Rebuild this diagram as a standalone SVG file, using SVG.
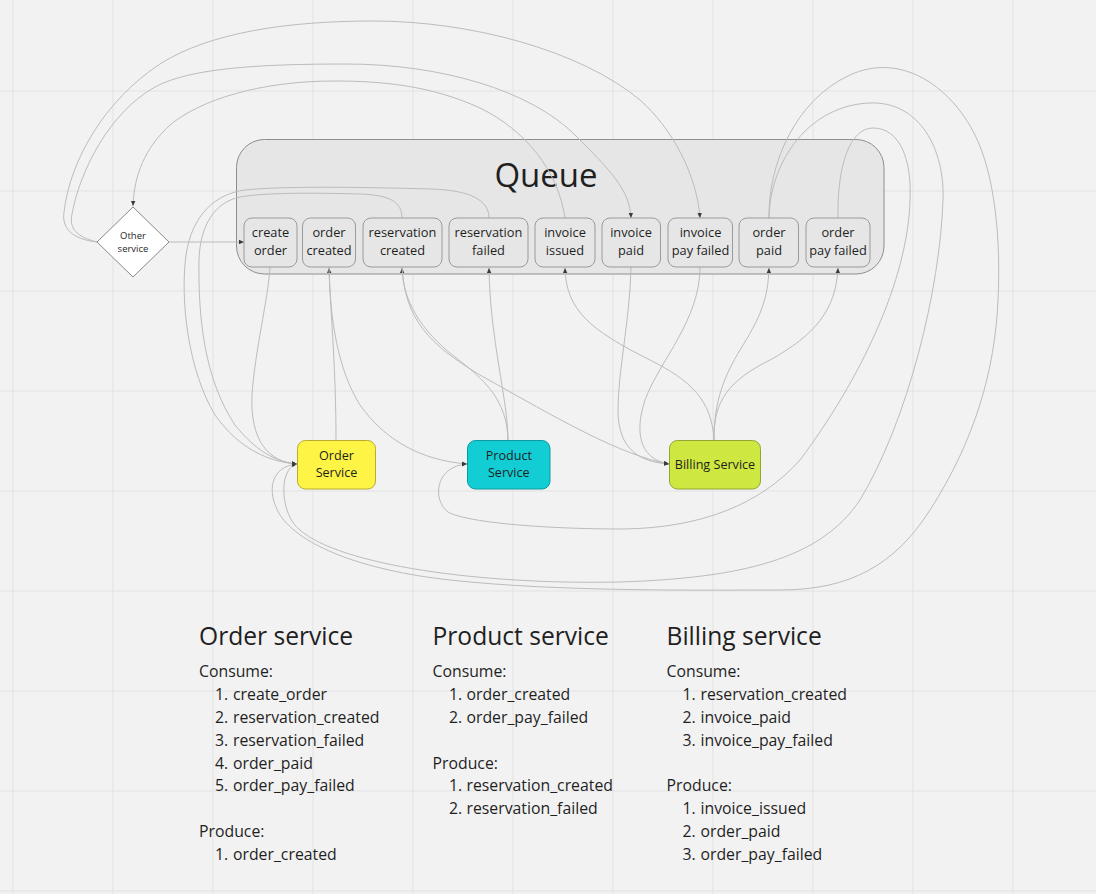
<svg xmlns="http://www.w3.org/2000/svg" width="1096" height="894" viewBox="0 0 1096 894">
<style>
  text { font-family: "Open Sans", "Noto Sans", "Liberation Sans", sans-serif; fill: #1f1f1f; }
  .grid line { stroke: #e2e2e2; stroke-width: 1; }
  .conn path { fill: none; stroke: #bcbcbc; stroke-width: 1; }
  .arr { marker-end: url(#arrow); }
  .qbox { fill: #e6e6e6; stroke: #9a9a9a; stroke-width: 1; }
  .qlbl { font-size: 12.8px; text-anchor: middle; }
  .svc { font-size: 12.6px; text-anchor: middle; }
  .h { font-size: 24.6px; }
  .b { font-size: 15.8px; }
</style>
<defs>
  <marker id="arrow" markerUnits="userSpaceOnUse" markerWidth="6" markerHeight="6" refX="5" refY="3" orient="auto">
    <path d="M0,0.8 L5,3 L0,5.2 z" fill="#3a3a3a"/>
  </marker>
</defs>
<rect width="1096" height="894" fill="#f2f2f2"/>
<g class="grid" id="grid">
  <line x1="13" y1="0" x2="13" y2="894"/><line x1="113" y1="0" x2="113" y2="894"/><line x1="213" y1="0" x2="213" y2="894"/><line x1="313" y1="0" x2="313" y2="894"/><line x1="413" y1="0" x2="413" y2="894"/><line x1="513" y1="0" x2="513" y2="894"/><line x1="613" y1="0" x2="613" y2="894"/><line x1="713" y1="0" x2="713" y2="894"/><line x1="813" y1="0" x2="813" y2="894"/><line x1="913" y1="0" x2="913" y2="894"/><line x1="1013" y1="0" x2="1013" y2="894"/>
  <line x1="0" y1="91" x2="1096" y2="91"/><line x1="0" y1="191" x2="1096" y2="191"/><line x1="0" y1="291" x2="1096" y2="291"/><line x1="0" y1="391" x2="1096" y2="391"/><line x1="0" y1="491" x2="1096" y2="491"/><line x1="0" y1="591" x2="1096" y2="591"/><line x1="0" y1="691" x2="1096" y2="691"/><line x1="0" y1="791" x2="1096" y2="791"/><line x1="0" y1="891" x2="1096" y2="891"/>
</g>

<g id="queue">
  <rect x="236.5" y="139.5" width="647.5" height="134.5" rx="28" fill="#e6e6e6" stroke="#8e8e8e" stroke-width="1"/>
  <text x="546" y="187" font-size="33" text-anchor="middle">Queue</text>
</g>

<g class="conn" id="connectors">
  <path class="arr" d="M169,242 L244,242"/>
  <path class="arr" d="M97,242 C78,240 61,232 64,212 C70,160 105,100 160,64 C210,32 290,21 373,21 C470,21 580,50 640,100 C672,128 697,175 700,218"/>
  <path class="arr" d="M97,242 C82,238 68,232 72,214 C80,170 110,112 155,87 C190,68 260,64 346,64 C440,64 530,90 575,135 C610,170 630,190 631,218"/>
  <path class="arr" d="M565,218 C558,170 525,130 480,108 C430,85 380,81 334,81 C260,81 200,100 170,125 C145,148 134,175 133,206"/>
  <path class="arr" d="M769,218 C768,165 795,100 850,75 C900,52 950,85 975,135 C995,175 1001,240 998,300 C995,370 975,440 930,510 C895,565 850,590 780,590 C700,590 560,592 450,580 C360,570 300,545 280,515 C265,490 272,466 297,464"/>
  <path class="arr" d="M769,218 C770,160 810,105 870,103 C920,101 945,150 943,200 C940,290 908,420 860,500 C820,560 740,578 620,582 C480,585 340,565 300,530 C280,515 278,468 297,464"/>
  <path class="arr" d="M838,218 C837,165 850,128 873,128 C900,128 912,160 910,200 C908,280 860,380 800,460 C760,505 700,528 623,529 C540,529 465,522 448,512 C432,500 435,466 467,464"/>
  <path class="arr" d="M489,218 C489,200 470,190 430,189 C360,187 280,186 245,190 C215,194 192,215 186,255 C180,300 188,370 215,415 C240,450 270,462 297,464"/>
  <path class="arr" d="M402,218 C402,202 390,195 360,194 C320,193 270,192 240,197 C215,202 200,225 199,260 C198,320 205,380 235,425 C255,450 275,462 297,464"/>
  <path class="arr" d="M270,267 C268,300 255,350 252,395 C250,440 268,462 297,464"/>
  <path class="arr" d="M336,440 C336,370 331,320 329,268"/>
  <path class="arr" d="M329,267 C330,320 338,370 360,405 C385,440 420,460 467,464"/>
  <path class="arr" d="M508,440 C507,400 485,380 455,357 C420,330 403,300 402,268"/>
  <path class="arr" d="M402,267 C405,320 430,345 480,375 C560,420 620,455 669,464"/>
  <path class="arr" d="M508,440 C508,400 490,340 489,268"/>
  <path class="arr" d="M714,440 C712,400 690,380 650,360 C590,330 566,310 565,268"/>
  <path class="arr" d="M631,267 C630,320 618,370 618,410 C618,450 640,462 669,464"/>
  <path class="arr" d="M700,267 C700,320 660,360 645,400 C632,440 645,460 669,464"/>
  <path class="arr" d="M714,440 C714,400 725,375 740,350 C760,318 768,300 769,268"/>
  <path class="arr" d="M714,440 C713,400 730,380 770,360 C815,335 836,310 838,268"/>
</g>

<g id="q-create-order"><rect class="qbox" x="244" y="218" width="53" height="49" rx="8"/><text class="qlbl" x="270.5" y="237">create</text><text class="qlbl" x="270.5" y="254.5">order</text></g>
<g id="q-order-created"><rect class="qbox" x="302.5" y="218" width="53" height="49" rx="8"/><text class="qlbl" x="329" y="237">order</text><text class="qlbl" x="329" y="254.5">created</text></g>
<g id="q-reservation-created"><rect class="qbox" x="363" y="218" width="79" height="49" rx="8"/><text class="qlbl" x="402.5" y="237">reservation</text><text class="qlbl" x="402.5" y="254.5">created</text></g>
<g id="q-reservation-failed"><rect class="qbox" x="449" y="218" width="79" height="49" rx="8"/><text class="qlbl" x="488.5" y="237">reservation</text><text class="qlbl" x="488.5" y="254.5">failed</text></g>
<g id="q-invoice-issued"><rect class="qbox" x="535" y="218" width="60" height="49" rx="8"/><text class="qlbl" x="565" y="237">invoice</text><text class="qlbl" x="565" y="254.5">issued</text></g>
<g id="q-invoice-paid"><rect class="qbox" x="602" y="218" width="58.5" height="49" rx="8"/><text class="qlbl" x="631" y="237">invoice</text><text class="qlbl" x="631" y="254.5">paid</text></g>
<g id="q-invoice-pay-failed"><rect class="qbox" x="668" y="218" width="64.5" height="49" rx="8"/><text class="qlbl" x="700.5" y="237">invoice</text><text class="qlbl" x="700.5" y="254.5">pay failed</text></g>
<g id="q-order-paid"><rect class="qbox" x="739" y="218" width="59.5" height="49" rx="8"/><text class="qlbl" x="769" y="237">order</text><text class="qlbl" x="769" y="254.5">paid</text></g>
<g id="q-order-pay-failed"><rect class="qbox" x="806" y="218" width="64" height="49" rx="8"/><text class="qlbl" x="838" y="237">order</text><text class="qlbl" x="838" y="254.5">pay failed</text></g>

<g id="other-service">
  <polygon points="133,207 169,242 133,277 97,242" fill="#ffffff" stroke="#8a8a8a" stroke-width="1"/>
  <text x="133" y="238.5" font-size="9.5" text-anchor="middle">Other</text>
  <text x="133" y="251.5" font-size="9.5" text-anchor="middle">service</text>
</g>

<g id="order-service">
  <rect x="297.5" y="440.5" width="78" height="48.5" rx="8" fill="#fef445" stroke="#b9ad2e" stroke-width="1"/>
  <text class="svc" x="336.5" y="459.5">Order</text>
  <text class="svc" x="336.5" y="477">Service</text>
</g>
<g id="product-service">
  <rect x="467.5" y="440.5" width="82.5" height="48.5" rx="8" fill="#12cdd4" stroke="#0f9aa0" stroke-width="1"/>
  <text class="svc" x="508.8" y="459.5">Product</text>
  <text class="svc" x="508.8" y="477">Service</text>
</g>
<g id="billing-service">
  <rect x="669.5" y="440.5" width="91" height="48.5" rx="8" fill="#cee741" stroke="#94a532" stroke-width="1"/>
  <text class="svc" x="715" y="468.5" font-size="12.2px">Billing Service</text>
</g>

<g id="notes-order">
  <text class="h" x="199" y="644.5">Order service</text>
  <text class="b" x="199" y="677">Consume:</text>
  <text class="b" x="215" y="700">1.</text><text class="b" x="233" y="700">create_order</text>
  <text class="b" x="215" y="723">2.</text><text class="b" x="233" y="723">reservation_created</text>
  <text class="b" x="215" y="746">3.</text><text class="b" x="233" y="746">reservation_failed</text>
  <text class="b" x="215" y="769">4.</text><text class="b" x="233" y="769">order_paid</text>
  <text class="b" x="215" y="791">5.</text><text class="b" x="233" y="791">order_pay_failed</text>
  <text class="b" x="199" y="837">Produce:</text>
  <text class="b" x="215" y="860">1.</text><text class="b" x="233" y="860">order_created</text>
</g>
<g id="notes-product">
  <text class="h" x="432.5" y="644.5">Product service</text>
  <text class="b" x="432.5" y="677">Consume:</text>
  <text class="b" x="449" y="700">1.</text><text class="b" x="466.5" y="700">order_created</text>
  <text class="b" x="449" y="723">2.</text><text class="b" x="466.5" y="723">order_pay_failed</text>
  <text class="b" x="432.5" y="769">Produce:</text>
  <text class="b" x="449" y="791">1.</text><text class="b" x="466.5" y="791">reservation_created</text>
  <text class="b" x="449" y="814">2.</text><text class="b" x="466.5" y="814">reservation_failed</text>
</g>
<g id="notes-billing">
  <text class="h" x="666.5" y="644.5">Billing service</text>
  <text class="b" x="666.5" y="677">Consume:</text>
  <text class="b" x="682.5" y="700">1.</text><text class="b" x="700.5" y="700">reservation_created</text>
  <text class="b" x="682.5" y="723">2.</text><text class="b" x="700.5" y="723">invoice_paid</text>
  <text class="b" x="682.5" y="746">3.</text><text class="b" x="700.5" y="746">invoice_pay_failed</text>
  <text class="b" x="666.5" y="791">Produce:</text>
  <text class="b" x="682.5" y="814">1.</text><text class="b" x="700.5" y="814">invoice_issued</text>
  <text class="b" x="682.5" y="837">2.</text><text class="b" x="700.5" y="837">order_paid</text>
  <text class="b" x="682.5" y="860">3.</text><text class="b" x="700.5" y="860">order_pay_failed</text>
</g>
</svg>
